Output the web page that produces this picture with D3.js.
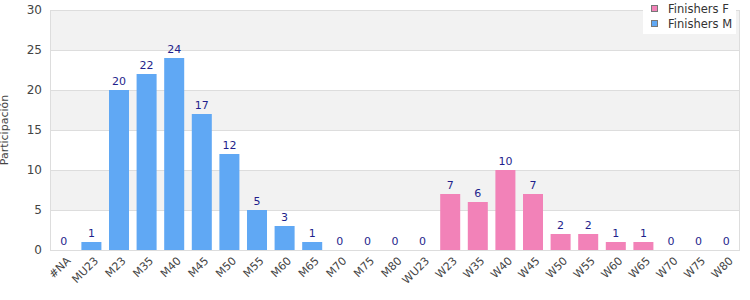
<!DOCTYPE html>
<html>
<head>
<meta charset="utf-8">
<script src="https://cdn.jsdelivr.net/npm/d3@7"></script>
<style>
  body { margin: 0; background: #fff; }
  text { font-family: "DejaVu Sans", sans-serif; }
</style>
</head>
<body>
<div id="chart"></div>
<script>
// categories and counts
const categories = ["#NA", "MU23", "M23", "M35", "M40", "M45", "M50", "M55", "M60", "M65", "M70", "M75", "M80",
    "WU23", "W23", "W35", "W40", "W45", "W50", "W55", "W60", "W65", "W70", "W75", "W80"];
const finishers = [0, 1, 20, 22, 24, 17, 12, 5, 3, 1, 0, 0, 0, 0, 7, 6, 10, 7, 2, 2, 1, 1, 0, 0, 0];
const genders = ["M", "M", "M", "M", "M", "M", "M", "M", "M", "M", "M", "M", "M",
    "F", "F", "F", "F", "F", "F", "F", "F", "F", "F", "F", "F"];
const yTicks = [0, 5, 10, 15, 20, 25, 30];
const legendItems = ["Finishers F", "Finishers M"];

const colors = { F: "#f282b8", M: "#60a8f4" };

const width = 750, height = 300;
const margin = { top: 10, right: 10, bottom: 50, left: 50 };

const svg = d3.select("#chart").append("svg")
    .attr("width", width)
    .attr("height", height);

const x = d3.scaleBand()
    .domain(categories)
    .range([margin.left, width - margin.right])
    .paddingInner(0.275)
    .paddingOuter(0.1375);

const y = d3.scaleLinear()
    .domain([0, 30])
    .range([height - margin.bottom, margin.top]);

// alternating background bands
const bands = d3.pairs(yTicks).filter((d, i) => i % 2 === 1);
svg.selectAll(".band")
    .data(bands)
    .enter()
    .append("rect")
    .attr("x", margin.left)
    .attr("width", width - margin.right - margin.left)
    .attr("y", d => y(d[1]))
    .attr("height", d => y(d[0]) - y(d[1]))
    .attr("fill", "#f2f2f2");

// grid lines
svg.selectAll(".grid")
    .data(yTicks)
    .enter()
    .append("line")
    .attr("x1", margin.left)
    .attr("x2", width - margin.right)
    .attr("y1", d => y(d) + 0.5)
    .attr("y2", d => y(d) + 0.5)
    .attr("stroke", "#dddddd");

// left and right border
svg.append("line")
    .attr("x1", margin.left + 0.5).attr("x2", margin.left + 0.5)
    .attr("y1", y(30)).attr("y2", y(0))
    .attr("stroke", "#dddddd");
svg.append("line")
    .attr("x1", width - margin.right - 0.5).attr("x2", width - margin.right - 0.5)
    .attr("y1", y(30)).attr("y2", y(0))
    .attr("stroke", "#dddddd");

// y axis labels
svg.selectAll(".ytick")
    .data(yTicks)
    .enter()
    .append("text")
    .attr("x", margin.left - 8)
    .attr("y", d => y(d))
    .attr("dy", "0.35em")
    .attr("text-anchor", "end")
    .attr("font-size", 12)
    .attr("fill", "#444")
    .text(d => d);

svg.append("text")
    .attr("transform", `translate(8, ${(y(0) + y(30)) / 2}) rotate(-90)`)
    .attr("text-anchor", "middle")
    .attr("font-size", 11)
    .attr("fill", "#444")
    .text("Participación");

// bars
const bars = svg.selectAll(".bar")
    .data(categories)
    .enter()
    .append("g");

bars.append("rect")
    .attr("x", d => x(d))
    .attr("width", x.bandwidth())
    .attr("y", (d, i) => y(finishers[i]))
    .attr("height", (d, i) => y(0) - y(finishers[i]))
    .attr("fill", (d, i) => colors[genders[i]]);

bars.append("text")
    .attr("x", d => x(d) + x.bandwidth() / 2)
    .attr("y", (d, i) => y(finishers[i]) - 5)
    .attr("text-anchor", "middle")
    .attr("font-size", 11)
    .attr("fill", "#1f1f8c")
    .text((d, i) => finishers[i]);

// x axis labels
svg.selectAll(".xtick")
    .data(categories)
    .enter()
    .append("text")
    .attr("transform", d => `translate(${x(d) + x.bandwidth() / 2 + 2}, ${y(0) + 6}) rotate(-45)`)
    .attr("text-anchor", "end")
    .attr("dy", "0.7em")
    .attr("font-size", 11)
    .attr("fill", "#444")
    .text(d => d);

// legend
const legend = svg.append("g").attr("transform", "translate(643, 0)");
legend.append("rect")
    .attr("width", 93)
    .attr("height", 34)
    .attr("fill", "#fff");

const items = legend.selectAll(".item")
    .data(legendItems)
    .enter()
    .append("g")
    .attr("transform", (d, i) => `translate(0, ${i * 15})`);

items.append("rect")
    .attr("x", 8.5)
    .attr("y", 5.5)
    .attr("width", 6)
    .attr("height", 6)
    .attr("fill", (d, i) => i === 0 ? colors.F : colors.M)
    .attr("stroke", "#777");

items.append("text")
    .attr("x", 25)
    .attr("y", 13)
    .attr("font-size", 11.5)
    .attr("fill", "#333")
    .text(d => d);
</script>
</body>
</html>
